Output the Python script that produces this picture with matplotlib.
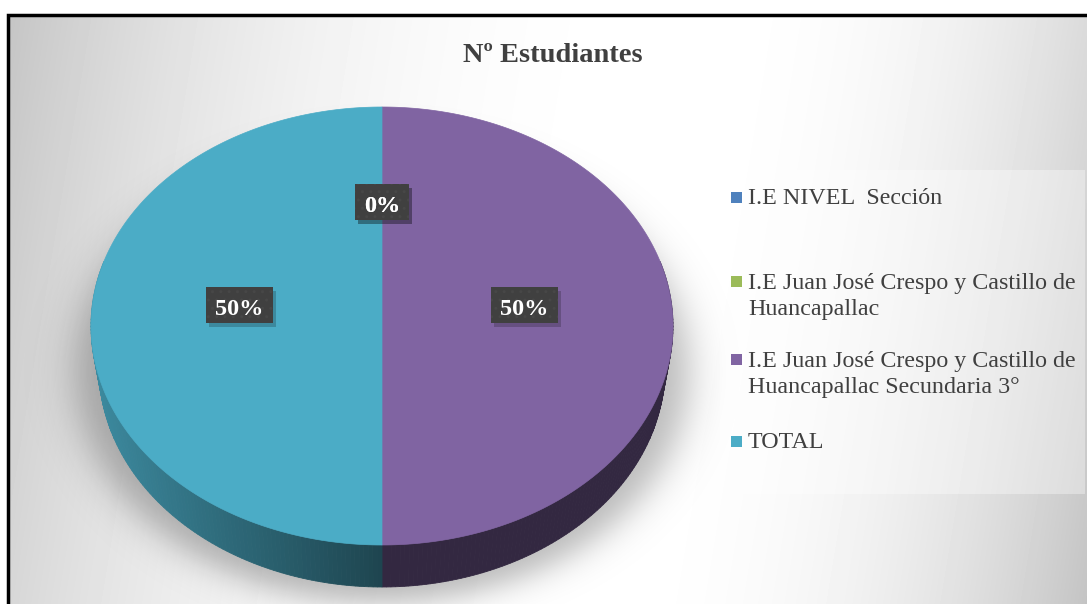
import textwrap
import numpy as np
import matplotlib.pyplot as plt
from matplotlib.patches import Polygon, Rectangle

# data
categories = ['I.E NIVEL  Sección',
              'I.E Juan José Crespo y Castillo de Huancapallac',
              'I.E Juan José Crespo y Castillo de Huancapallac Secundaria 3°',
              'TOTAL']
values = [0, 0, 30, 30]
colors = ['#4F81BD', '#9BBB59', '#8064A2', '#4BACC6']
title = 'Nº Estudiantes'

W, H = 1087, 604
serif = ['Liberation Serif', 'DejaVu Serif']

fig = plt.figure(figsize=(W / 100, H / 100), dpi=100)
ax = fig.add_axes([0, 0, 1, 1])

# background gradient (light band in the middle, grey towards the sides)
yy, xx = np.mgrid[0:H, 0:W] + 0.5
band = 700 - 100 * yy / H
d = xx - band
dark = np.where(d < 0, 59 * (np.abs(d) / 692) ** 2.4, 59 * (np.abs(d) / 486) ** 2.2)
g = np.clip(255 - dark, 0, 255) / 255
g[:14, :] = 1
g[:, :7] = 1
ax.imshow(g, cmap='gray', vmin=0, vmax=1, extent=(0, W, H, 0), zorder=0,
          aspect='auto', interpolation='bilinear')

# pie geometry
cx, cy, a, b = 382, 326, 291, 219
depth, a_bot = 42, 283

# soft shadow under the pie
r = np.sqrt(((xx - cx) / 306) ** 2 + ((yy - 372) / 230) ** 2)
sh = np.zeros((H, W, 4))
sh[..., 3] = 0.28 / (1 + np.exp((r - 1) / 0.04))
ax.imshow(sh, extent=(0, W, H, 0), zorder=1, aspect='auto', interpolation='bilinear')

total = sum(values)
edges = np.concatenate([[0], np.cumsum(values)]) / total * 2 * np.pi

# side walls
for i, v in enumerate(values):
    if v == 0:
        continue
    t1, t2 = edges[i], edges[i + 1]
    lo, hi = max(t1, np.pi / 2 - 0.3), min(t2, 1.5 * np.pi + 0.3)
    if hi <= lo:
        continue
    ts = np.linspace(lo, hi, 120)
    base = np.array(plt.matplotlib.colors.to_rgb(colors[i]))
    for j in range(len(ts) - 1):
        ta, tb = ts[j], ts[j + 1]
        quad = [(cx + a * np.sin(ta), cy - b * np.cos(ta)),
                (cx + a * np.sin(tb), cy - b * np.cos(tb)),
                (cx + a_bot * np.sin(tb), cy + depth - b * np.cos(tb)),
                (cx + a_bot * np.sin(ta), cy + depth - b * np.cos(ta))]
        tm = (ta + tb) / 2
        shade = 0.4 + 0.4 * max(0, -np.sin(tm))
        c = base * shade
        ax.add_patch(Polygon(quad, closed=True, fc=c, ec=c, lw=0.6, zorder=3))

# top surface
for i, v in enumerate(values):
    if v == 0:
        continue
    ts = np.linspace(edges[i], edges[i + 1], 200)
    pts = [(cx, cy)] + [(cx + a * np.sin(t), cy - b * np.cos(t)) for t in ts]
    ax.add_patch(Polygon(pts, closed=True, fc=colors[i], ec=colors[i], lw=0.5, zorder=4))

# data labels
renderer = fig.canvas.get_renderer()
for i, v in enumerate(values):
    mid = (edges[i] + edges[i + 1]) / 2
    lx = cx + a * 0.49 * np.sin(mid)
    ly = 305 - b * 0.47 * np.cos(mid)
    txt = ax.text(lx, ly + 10, f'{round(100 * v / total)}%', ha='center', va='baseline',
                  fontsize=17.5, fontweight='bold', color='white', family=serif, zorder=8)
    bw = txt.get_window_extent(renderer=renderer).width + 18
    bh = 36
    ax.add_patch(Rectangle((lx - bw / 2 + 3, ly - bh / 2 + 4), bw, bh, fc='black',
                           alpha=0.2, lw=0, zorder=6))
    ax.add_patch(Rectangle((lx - bw / 2, ly - bh / 2), bw, bh, fc='#404040',
                           ec='#474747', hatch='..', lw=0, zorder=7))

# legend
ax.add_patch(Rectangle((720, 170), 365, 324, fc='white', alpha=0.35, lw=0, zorder=2))
entry_y = [197, 281, 359, 441]
for name, col, y in zip(categories, colors, entry_y):
    ax.add_patch(Rectangle((731, y - 5.5), 11, 11, fc=col, lw=0, zorder=5))
    lines = textwrap.wrap(name, 34) if len(name) > 34 else [name]
    for k, line in enumerate(lines):
        ax.text(748, y + 7.5 + 26 * k, line, ha='left', va='baseline', fontsize=17.3,
                color='#404040', family=serif, zorder=5)

# title
ax.text(553, 62, title, ha='center', va='baseline', fontsize=20.5, fontweight='bold',
        color='#404040', family=serif, zorder=5)

# chart frame
ax.plot([8, 8, W], [H, 15, 15], color='black', lw=2.5, solid_joinstyle='miter', zorder=9)

ax.set_xlim(0, W)
ax.set_ylim(H, 0)
ax.axis('off')
fig.savefig('out.png', dpi=100)
